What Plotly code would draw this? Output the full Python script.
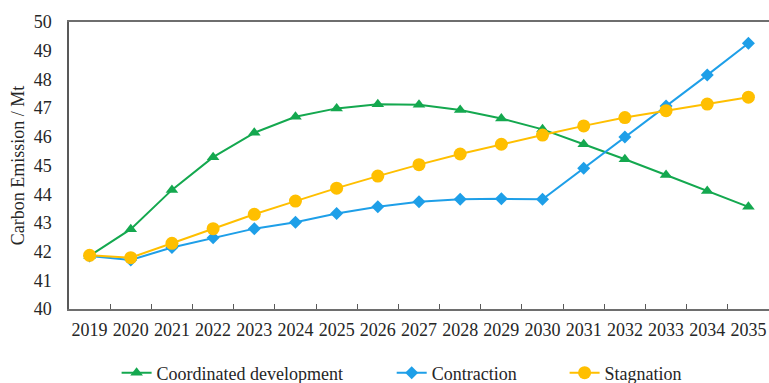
import plotly.graph_objects as go

years = [str(y) for y in range(2019, 2036)]

coordinated = [41.85, 42.78, 44.15, 45.29, 46.14, 46.70, 46.99, 47.13, 47.12,
               46.93, 46.64, 46.26, 45.74, 45.22, 44.67, 44.11, 43.56]
contraction = [41.85, 41.71, 42.14, 42.48, 42.80, 43.02, 43.33, 43.56, 43.74,
               43.82, 43.84, 43.82, 44.90, 45.99, 47.07, 48.15, 49.26]
stagnation = [41.87, 41.79, 42.29, 42.80, 43.30, 43.76, 44.21, 44.63, 45.03,
              45.40, 45.74, 46.06, 46.38, 46.67, 46.91, 47.14, 47.38]

series_names = ["Coordinated development", "Contraction", "Stagnation"]
colors = ["#14A84F", "#1E9FE8", "#FFBF00"]
symbols = ["triangle-up", "diamond", "circle"]
marker_sizes = [11, 10, 13]
legend_ids = ["legend", "legend2", "legend3"]
legend_x = [0.068, 0.461, 0.708]

FONT = "Times New Roman"
FS = 18

fig = go.Figure()
for name, vals, col, sym, ms, lg in zip(series_names,
                                        [coordinated, contraction, stagnation],
                                        colors, symbols, marker_sizes, legend_ids):
    fig.add_trace(go.Scatter(
        x=years, y=vals, name=name, mode="lines+markers",
        line=dict(color=col, width=2),
        marker=dict(symbol=sym, size=ms, color=col),
        legend=lg,
    ))

legend_common = dict(orientation="h", yanchor="middle", y=-0.223, xanchor="left",
                     font=dict(family=FONT, size=FS, color="#262626"),
                     bgcolor="rgba(0,0,0,0)", borderwidth=0)

layout_legends = {lg: dict(x=x, **legend_common) for lg, x in zip(legend_ids, legend_x)}

fig.update_layout(
    width=769, height=383,
    margin=dict(l=69, r=0, t=22, b=74, autoexpand=False),
    paper_bgcolor="white", plot_bgcolor="white",
    font=dict(family=FONT, size=FS, color="#262626"),
    showlegend=True,
    xaxis=dict(
        type="category", range=[-0.5, len(years) - 0.5],
        tickson="boundaries", ticks="inside", ticklen=5,
        tickcolor="#595959", showline=True, linecolor="#6e6e6e", linewidth=1.5,
        mirror=True, showgrid=False, zeroline=False, tickangle=0,
        automargin=False,
        tickfont=dict(family=FONT, size=FS, color="#262626"),
        ticklabelstandoff=4,
    ),
    yaxis=dict(
        range=[40, 50], dtick=1, ticks="", showline=True, linecolor="#595959",
        linewidth=1.5, showgrid=False, zeroline=False, automargin=False,
        tickfont=dict(family=FONT, size=FS, color="#262626"),
        ticklabelstandoff=12,
        title=dict(text="Carbon Emission / Mt", standoff=4,
                   font=dict(family=FONT, size=FS, color="#262626")),
    ),
    **layout_legends,
)

fig.write_html("out.html")
